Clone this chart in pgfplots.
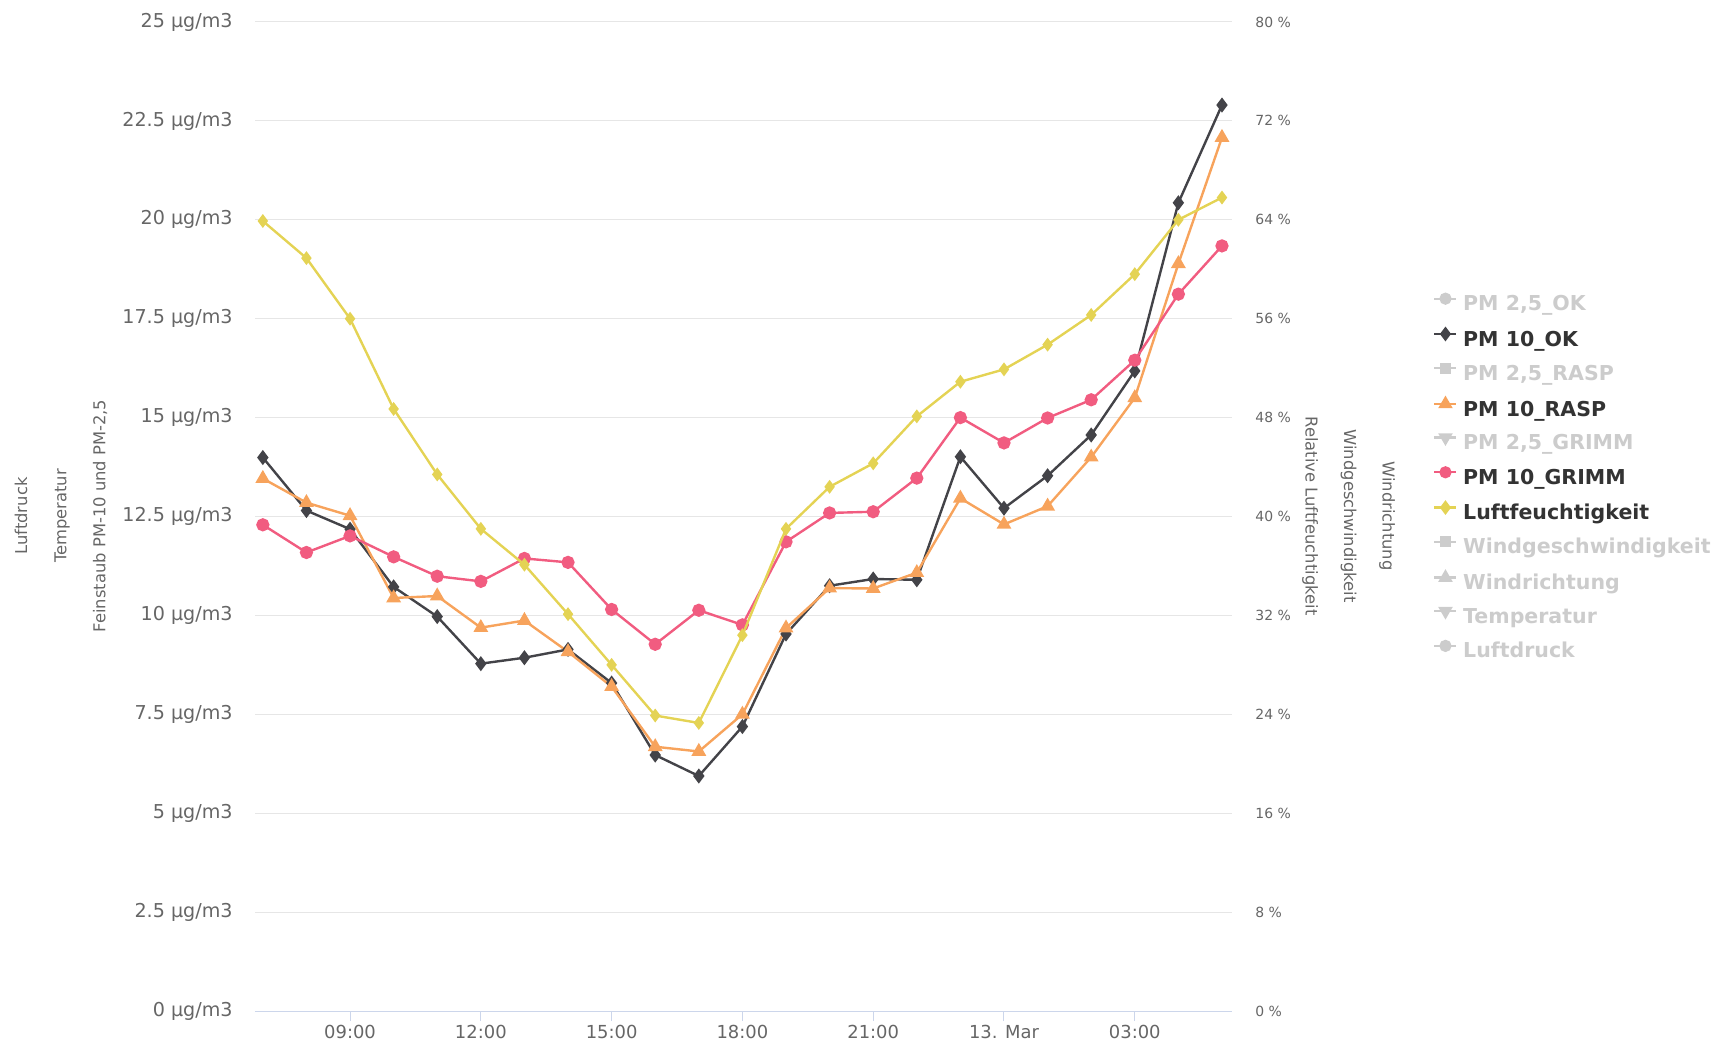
\documentclass[border=0pt]{standalone}
\usepackage{fontspec}
\setmainfont{DejaVu Sans}
\usepackage{pgfplots}
\pgfplotsset{compat=1.18}

\definecolor{gridc}{HTML}{E6E6E6}
\definecolor{axisc}{HTML}{CCD6EB}
\definecolor{labc}{HTML}{666666}
\definecolor{legc}{HTML}{333333}
\definecolor{hidc}{HTML}{CCCCCC}
\definecolor{okc}{HTML}{434348}
\definecolor{raspc}{HTML}{F7A35C}
\definecolor{grimmc}{HTML}{F15C80}
\definecolor{humc}{HTML}{E4D354}

% hour of day (7 = 07:00 on 12 Mar, 24 = 00:00 on 13 Mar)
\pgfplotstableread{
h   ok     rasp   grimm
7   13.99  13.46  12.29
8   12.65  12.85  11.59
9   12.18  12.52  12.01
10  10.72  10.44  11.48
11   9.97  10.49  10.99
12   8.78   9.69  10.86
13   8.93   9.87  11.44
14   9.14   9.08  11.34
15   8.29   8.20  10.15
16   6.47   6.68   9.27
17   5.94   6.56  10.13
18   7.19   7.50   9.76
19   9.53   9.68  11.86
20  10.75  10.69  12.59
21  10.92  10.68  12.62
22  10.90  11.08  13.47
23  14.01  12.96  15.00
24  12.71  12.30  14.36
25  13.53  12.76  14.99
26  14.56  14.00  15.45
27  16.18  15.50  16.45
28  20.43  18.89  18.12
29  22.90  22.08  19.34
}\pmdata

\pgfplotstableread{
h   hum
7   63.9
8   60.9
9   56.0
10  48.7
11  43.4
12  39.0
13  36.1
14  32.1
15  28.0
16  23.9
17  23.3
18  30.4
19  39.0
20  42.4
21  44.3
22  48.1
23  50.9
24  51.9
25  53.9
26  56.3
27  59.6
28  64.0
29  65.8
}\humdata

\begin{document}
\begin{tikzpicture}
\path[use as bounding box] (-127.5bp,-16bp) rectangle (734.5bp,505.5bp);

\begin{axis}[
    scale only axis,
    width=488.5bp, height=494.5bp,
    xmin=6.82, xmax=29.23,
    ymin=0, ymax=25,
    axis x line*=bottom, axis y line*=left,
    y axis line style={draw=none},
    x axis line style={draw=axisc, line width=0.5bp, -},
    major tick length=0pt,
    tick align=outside,
    xtick={9,12,15,18,21,24,27},
    xticklabels={09:00,12:00,15:00,18:00,21:00,13. Mar,03:00},
    xtick style={draw=axisc, line width=0.5bp, /pgfplots/major tick length=5bp},
    ytick={0,2.5,5,7.5,10,12.5,15,17.5,20,22.5,25},
    yticklabels={0 µg/m3,2.5 µg/m3,5 µg/m3,7.5 µg/m3,10 µg/m3,12.5 µg/m3,15 µg/m3,17.5 µg/m3,20 µg/m3,22.5 µg/m3,25 µg/m3},
    ytick style={draw=none},
    ymajorgrids,
    grid style={gridc, line width=0.5bp},
    yticklabel style={font=\fontsize{9.6}{11}\selectfont, text=labc, inner sep=0pt, xshift=-11bp},
    xticklabel style={font=\fontsize{9}{11}\selectfont, text=labc, inner sep=0pt, anchor=north, yshift=-7bp},
    /pgf/number format/assume math mode=true,
    clip=false,
    legend style={
        at={(axis description cs:1.2057,0.7257)}, anchor=north west,
        draw=none, fill=none, inner sep=0pt,
        font=\bfseries\fontsize{10.3}{12}\selectfont, text=legc,
        row sep=6.3bp,
        nodes={inner xsep=0pt, inner ysep=0pt, text height=8bp, text depth=2.5bp},
        /tikz/every odd column/.append style={column sep=2.8bp},
    },
    legend cell align=left,
    legend image code/.code={
        \draw[mark repeat=2, mark phase=2, yshift=3.3bp]
            plot coordinates {(0bp,0bp) (5.5bp,0bp) (11bp,0bp)};
    },
]

\addplot[okc, line width=1.2bp, mark=diamond*, mark size=2.8bp, forget plot]
    table[x=h, y=ok] {\pmdata};
\addplot[raspc, line width=1.2bp, mark=triangle*, mark size=3.1bp, forget plot]
    table[x=h, y=rasp] {\pmdata};
\addplot[grimmc, line width=1.2bp, mark=*, mark size=2.7bp, forget plot]
    table[x=h, y=grimm] {\pmdata};

\addlegendimage{hidc, line width=1.1bp, mark=*, mark size=2.5bp}
\addlegendentry{\textcolor{hidc}{PM 2,5\_OK}}
\addlegendimage{okc, line width=1.1bp, mark=diamond*, mark size=2.8bp}
\addlegendentry{PM 10\_OK}
\addlegendimage{hidc, line width=1.1bp, mark=square*, mark size=2.2bp}
\addlegendentry{\textcolor{hidc}{PM 2,5\_RASP}}
\addlegendimage{raspc, line width=1.1bp, mark=triangle*, mark size=3.1bp}
\addlegendentry{PM 10\_RASP}
\addlegendimage{hidc, line width=1.1bp, mark=triangle*, mark size=3.1bp, mark options={rotate=180}}
\addlegendentry{\textcolor{hidc}{PM 2,5\_GRIMM}}
\addlegendimage{grimmc, line width=1.1bp, mark=*, mark size=2.5bp}
\addlegendentry{PM 10\_GRIMM}
\addlegendimage{humc, line width=1.1bp, mark=diamond*, mark size=2.8bp}
\addlegendentry{Luftfeuchtigkeit}
\addlegendimage{hidc, line width=1.1bp, mark=square*, mark size=2.2bp}
\addlegendentry{\textcolor{hidc}{Windgeschwindigkeit}}
\addlegendimage{hidc, line width=1.1bp, mark=triangle*, mark size=3.1bp}
\addlegendentry{\textcolor{hidc}{Windrichtung}}
\addlegendimage{hidc, line width=1.1bp, mark=triangle*, mark size=3.1bp, mark options={rotate=180}}
\addlegendentry{\textcolor{hidc}{Temperatur}}
\addlegendimage{hidc, line width=1.1bp, mark=*, mark size=2.5bp}
\addlegendentry{\textcolor{hidc}{Luftdruck}}
\end{axis}

\begin{axis}[
    scale only axis,
    width=488.5bp, height=494.5bp,
    xmin=6.82, xmax=29.23,
    ymin=0, ymax=80,
    axis x line=none, axis y line*=right,
    y axis line style={draw=none},
    major tick length=0pt,
    ytick style={draw=none},
    ytick={0,8,16,24,32,40,48,56,64,72,80},
    yticklabels={0 \%,8 \%,16 \%,24 \%,32 \%,40 \%,48 \%,56 \%,64 \%,72 \%,80 \%},
    yticklabel style={font=\fontsize{7}{8}\selectfont, text=labc, inner sep=0pt, anchor=west, xshift=11.5bp},
    /pgf/number format/assume math mode=true,
]
\addplot[humc, line width=1.2bp, mark=diamond*, mark size=2.5bp]
    table[x=h, y=hum] {\humdata};
\end{axis}

% axis titles
\begin{scope}[font=\fontsize{8.2}{9}\selectfont, text=labc]
\node[rotate=90] at (-117bp,247.5bp) {Luftdruck};
\node[rotate=90] at (-96.5bp,247.5bp) {Temperatur};
\node[rotate=90] at (-77.4bp,247.5bp) {Feinstaub PM-10 und PM-2,5};
\node[rotate=-90] at (527.5bp,247.5bp) {Relative Luftfeuchtigkeit};
\node[rotate=-90] at (546.8bp,247.5bp) {Windgeschwindigkeit};
\node[rotate=-90] at (566bp,247.5bp) {Windrichtung};
\end{scope}
\end{tikzpicture}
\end{document}
